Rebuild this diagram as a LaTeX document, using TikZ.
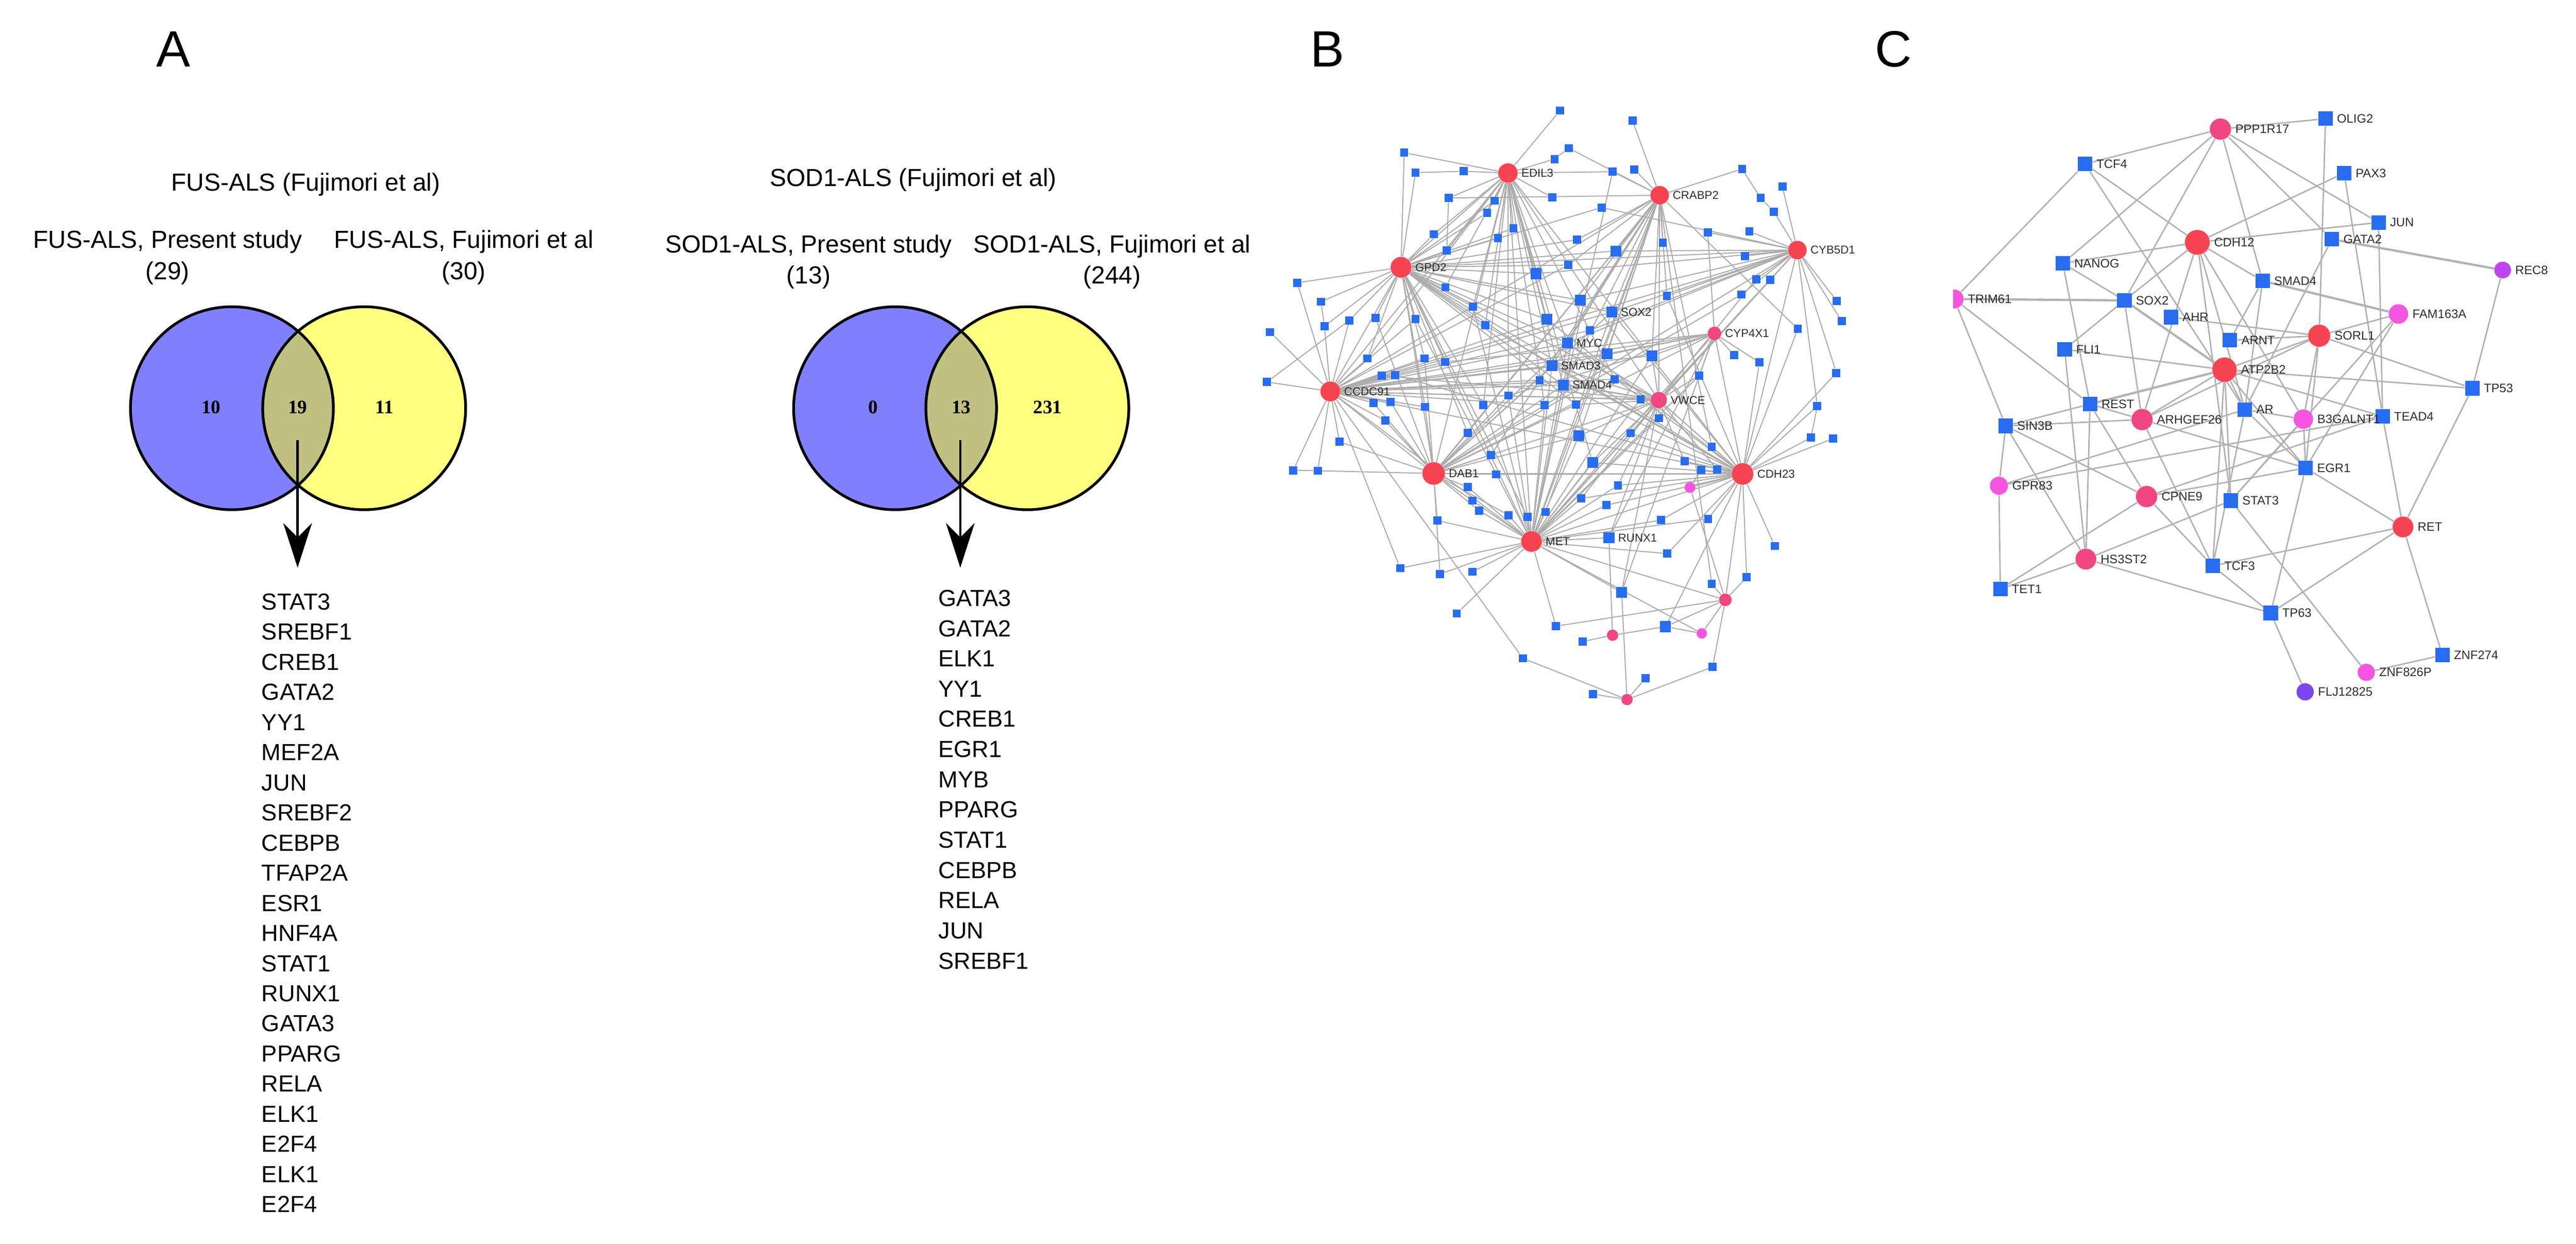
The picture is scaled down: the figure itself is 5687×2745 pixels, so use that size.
\documentclass[tikz,border=0pt]{standalone}
\usepackage{fontspec}
\setmainfont{Liberation Sans}
\newfontfamily\vennnum{Liberation Serif}
\usetikzlibrary{arrows.meta}
\pgfdeclarelayer{bg}
\pgfdeclarelayer{paper}
\pgfsetlayers{paper,bg,main}
\definecolor{vblue}{RGB}{128,128,255}
\definecolor{vyellow}{RGB}{255,255,128}
\definecolor{volive}{RGB}{192,192,128}
\definecolor{bblue}{RGB}{40,108,240}
\definecolor{hubred}{RGB}{247,68,82}
\definecolor{pinkred}{RGB}{240,70,130}
\definecolor{magentaB}{RGB}{245,85,225}
\definecolor{purpleB}{RGB}{190,70,240}
\definecolor{violetB}{RGB}{125,70,240}
\definecolor{edgeB}{RGB}{172,172,172}
\definecolor{edgeC}{RGB}{178,178,178}
\definecolor{lbltxt}{RGB}{45,45,45}
\begin{document}
\begin{tikzpicture}[x=0.01cm, y=-0.01cm,
  title/.style={font=\fontsize{15.5pt}{18pt}\selectfont, anchor=base, inner sep=0},
  listtxt/.style={font=\fontsize{14.6pt}{19pt}\selectfont, anchor=base west, inner sep=0},
  vnum/.style={font=\vennnum\bfseries\fontsize{12pt}{14pt}\selectfont, anchor=base, inner sep=0},
  panel/.style={font=\fontsize{32pt}{36pt}\selectfont, anchor=base, inner sep=0},
  vset/.style={circle, minimum size=4.48cm, inner sep=0},
  vline/.style={line width=1.7pt},
  downarrow/.style={line width=1.4pt, -{Stealth[length=28pt, width=18pt, inset=9pt]}},
  sqB/.style={rectangle, fill=bblue, minimum size=0.18cm, inner sep=0},
  sqBb/.style={rectangle, fill=bblue, minimum size=0.24cm, inner sep=0},
  hubB/.style={circle, fill=hubred, inner sep=0, minimum size=#1},
  pkB/.style={circle, fill=pinkred, inner sep=0, minimum size=#1},
  mgB/.style={circle, fill=magentaB, inner sep=0, minimum size=#1},
  lblB/.style={font=\fontsize{7.2pt}{8pt}\selectfont, text=lbltxt, anchor=west, inner sep=0, xshift=0.07cm},
  eB/.style={draw=edgeB, line width=0.65pt},
  sqC/.style={rectangle, fill=bblue, minimum size=0.32cm, inner sep=0},
  ndC/.style={circle, inner sep=0, fill=#1},
  lblC/.style={font=\fontsize{7.7pt}{9pt}\selectfont, text=lbltxt, anchor=west, inner sep=0, xshift=0.08cm},
  eC/.style={draw=edgeC, line width=0.9pt},
  eCt/.style={draw=edgeC, line width=1.4pt}
]
\begin{pgfonlayer}{paper}
\fill[white] (0,0) rectangle (5687,2745);
\end{pgfonlayer}
\useasboundingbox (0,0) rectangle (5687,2745);

% ---------------- Panel letters
\node[panel] (pA) at (383,147) {A};
\node[panel] (pB) at (2930,147) {B};
\node[panel] (pC) at (4180,147) {C};

% ---------------- Venn FUS
\node[title] (t1) at (675,421) {FUS-ALS (Fujimori et al)};
\node[title] (t1a) at (370,548) {FUS-ALS, Present study};
\node[title] (t1b) at (370,617) {(29)};
\node[title] (t1c) at (1024,548) {FUS-ALS, Fujimori et al};
\node[title] (t1d) at (1024,617) {(30)};
\node[vset, fill=vblue] (f1) at (512,901) {};
\node[vset, fill=vyellow] (f2) at (804,901) {};
\begin{scope}
  \clip (f1.center) circle[radius=224];
  \fill[volive] (f2.center) circle[radius=224];
\end{scope}
\draw[vline] (f1.center) circle[radius=224];
\draw[vline] (f2.center) circle[radius=224];
\node[vnum] (n10) at (466,913) {10};
\node[vnum] (n19) at (657,913) {19};
\node[vnum] (n11) at (849,913) {11};
\coordinate (fa1) at (657,971);
\coordinate (fa2) at (657,1253);
\draw[downarrow] (fa1) -- (fa2);
\foreach \t [count=\i] in {STAT3,SREBF1,CREB1,GATA2,YY1,MEF2A,JUN,SREBF2,CEBPB,TFAP2A,ESR1,HNF4A,STAT1,RUNX1,GATA3,PPARG,RELA,ELK1,E2F4,ELK1,E2F4}
  \node[listtxt] (fl\i) at (577,{1346+(\i-1)*66.5}) {\t};

% ---------------- Venn SOD1
\node[title] (t2) at (2016,411) {SOD1-ALS (Fujimori et al)};
\node[title] (t2a) at (1785,558) {SOD1-ALS, Present study};
\node[title] (t2b) at (1785,626) {(13)};
\node[title] (t2c) at (2455,558) {SOD1-ALS, Fujimori et al};
\node[title] (t2d) at (2455,626) {(244)};
\node[vset, fill=vblue] (s1) at (1976,901) {};
\node[vset, fill=vyellow] (s2) at (2268,901) {};
\begin{scope}
  \clip (s1.center) circle[radius=224];
  \fill[volive] (s2.center) circle[radius=224];
\end{scope}
\draw[vline] (s1.center) circle[radius=224];
\draw[vline] (s2.center) circle[radius=224];
\node[vnum] (n0) at (1928,913) {0};
\node[vnum] (n13) at (2122,913) {13};
\node[vnum] (n231) at (2313,913) {231};
\coordinate (sa1) at (2120,971);
\coordinate (sa2) at (2120,1253);
\draw[downarrow] (sa1) -- (sa2);
\foreach \t [count=\i] in {GATA3,GATA2,ELK1,YY1,CREB1,EGR1,MYB,PPARG,STAT1,CEBPB,RELA,JUN,SREBF1}
  \node[listtxt] (sl\i) at (2071,{1338+(\i-1)*66.7}) {\t};

% ---------------- Network B : nodes
\node[hubB=0.43cm] (edil) at (3329,382) {};
\node[hubB=0.46cm] (gpd) at (3093,590) {};
\node[hubB=0.44cm] (ccdc) at (2937,864) {};
\node[hubB=0.41cm] (crabp) at (3664,431) {};
\node[hubB=0.41cm] (cyb) at (3968,552) {};
\node[pkB=0.30cm] (cyp) at (3785,736) {};
\node[pkB=0.36cm] (vwce) at (3662,883) {};
\node[hubB=0.50cm] (dab) at (3165,1045) {};
\node[hubB=0.46cm] (met) at (3381,1195) {};
\node[hubB=0.48cm] (cdh) at (3847,1046) {};
\node[mgB=0.24cm] (p1) at (3731,1076) {};
\node[pkB=0.28cm] (p2) at (3809,1324) {};
\node[mgB=0.23cm] (p3) at (3757,1398) {};
\node[pkB=0.25cm] (p4) at (3560,1402) {};
\node[pkB=0.25cm] (p5) at (3592,1544) {};
\foreach \n/\x/\y in {b1/3444/244,b2/3604/266,b3/3463/327,b4/3432/351,b5/3100/337,b6/3125/381,b7/3231/378,b8/3560/379,b9/3608/374,b10/3846/373,b11/3935/412,b12/3887/437,b13/3916/467,b14/3536/458,b15/3198/437,b16/3300/443,b17/3283/470,b18/3427/436,b19/3165/517,b20/3307/525,b21/3341/504,b22/3194/553,b23/3770/513,b24/3862/511,b25/3671/536,b26/3482/529,b28/3852/565,b29/3462/585,b31/3877/616,b32/3908/618,b33/3844/650,b34/3680/653,b35/3191/634,b36/2864/624,b37/2916/666,b38/2924/720,b39/2979/707,b40/3037/702,b41/3125/704,b42/3252/677,b43/3279/718,b46/4055/664,b47/4066/709,b48/3969/726,b49/3510/729,b53/3828/784,b54/3884/800,b55/3751/829,b56/4054/823,b57/3565/837,b60/3399/839,b61/3622/881,b62/3479/893,b63/4012/896,b64/2804/733,b65/2797/843,b66/3019/791,b67/3145/791,b68/3190/799,b69/3050/829,b70/3080/828,b71/3330/873,b72/3032/889,b73/3070/887,b74/3146/898,b75/3275/894,b76/3410/894,b77/3662/923,b78/3058/928,b79/3240/955,b81/2957/975,b82/3600/956,b83/3998/966,b84/4047/968,b85/3292/1004,b86/2855/1038,b87/2909/1039,b88/3303/1047,b90/3719/1018,b91/3756/1037,b92/3791/1036,b93/3779/986,b94/3240/1075,b95/3251/1105,b96/3265/1127,b97/3572/1071,b98/3491/1100,b99/3546/1115,b100/3330/1137,b101/3372/1141,b102/3412/1130,b103/3173/1149,b104/3667/1148,b105/3771/1145,b107/3918/1205,b108/3681/1222,b109/3091/1254,b110/3179/1267,b111/3251/1262,b112/3856/1274,b113/3779/1289,b115/3216/1354,b116/3435/1382,b118/3494/1416,b119/3362/1453,b120/3781/1472,b121/3633/1497,b122/3517/1532}
  \node[sqB] (\n) at (\x,\y) {};
\foreach \n/\x/\y in {b27/3567/554,b30/3391/604,b44/3415/705,b45/3489/663,b51/3548/781,b52/3647/785,b80/3486/962,b89/3516/1021,b114/3580/1307,b117/3677/1383,myc/3460/757,smad3/3426/807,smad4/3451/850,sox2/3558/689,runx1/3552/1187}
  \node[sqBb] (\n) at (\x,\y) {};
\foreach \n/\t in {edil/EDIL3,gpd/GPD2,ccdc/CCDC91,crabp/CRABP2,cyb/CYB5D1,cyp/CYP4X1,vwce/VWCE,dab/DAB1,met/MET,cdh/CDH23,sox2/SOX2,myc/MYC,smad3/SMAD3,smad4/SMAD4,runx1/RUNX1}
  \node[lblB] (\n-l) at (\n.east) {\t};

% ---------------- Network B : edges
\begin{pgfonlayer}{bg}
\foreach \a/\b in {b1/edil,b2/crabp,b3/crabp,b3/b4,b4/edil,b5/edil,b5/gpd,b6/b7,b6/gpd,b7/edil,b8/crabp,b8/edil,b8/met,b9/crabp,b10/crabp,b10/b12,b12/b13,b13/cyb,b11/cyb,b14/cyb,b14/gpd,b15/edil,b15/crabp,b15/b22,b16/edil,b16/gpd,b17/edil,b17/gpd,b18/edil,b19/gpd,b19/edil,b20/gpd,b20/edil,b21/edil,b21/gpd,b22/gpd,b22/edil,b23/cyb,b23/cyp,b24/cyb,b25/crabp,b26/gpd,b26/crabp,b27/gpd,b27/cyb,b27/crabp,b28/cyb,b29/gpd,b29/crabp,b29/ccdc,b30/gpd,b30/cyb,b30/edil,b31/cyb,b31/vwce,b32/cyb,b32/met,b33/cyb,b33/dab,b34/crabp,b34/cyb,b34/cdh,b35/gpd,b35/edil,b36/gpd,b36/ccdc,b37/gpd,b37/b38,b38/ccdc,b38/gpd,b39/gpd,b39/ccdc,b40/gpd,b40/dab,b41/gpd,b41/ccdc,b41/met,b42/edil,b42/gpd,b42/met,b43/gpd,b43/edil,b43/cdh,b44/edil,b44/gpd,b44/ccdc,b44/cdh,b45/crabp,b45/gpd,b45/cyb,b45/met,b46/cyb,b47/cyb,b48/crabp,b48/cdh,b49/ccdc,b49/cyb,b51/ccdc,b51/cyp,b51/crabp,b52/cyp,b52/crabp,b52/vwce,b52/ccdc,b52/met,b53/cyp,b54/cyp,b54/cdh,b55/cyp,b55/vwce,b55/met,b56/cyb,b56/cdh,b57/vwce,b57/ccdc,b57/edil,b60/ccdc,b60/vwce,b60/crabp,b61/vwce,b61/ccdc,b61/met,b62/gpd,b62/vwce,b62/dab,b63/cyb,b63/cdh,b64/ccdc,b65/ccdc,b65/b39,b66/ccdc,b66/gpd,b66/edil,b67/ccdc,b67/gpd,b67/dab,b68/ccdc,b68/gpd,b68/cyp,b69/ccdc,b69/vwce,b70/ccdc,b70/cdh,b71/edil,b71/dab,b71/met,b71/cyp,b72/ccdc,b72/dab,b73/ccdc,b73/dab,b74/ccdc,b74/gpd,b74/dab,b75/gpd,b75/met,b75/edil,b76/edil,b76/met,b76/ccdc,b77/vwce,b77/met,b78/ccdc,b78/dab,b79/dab,b79/gpd,b79/crabp,b80/dab,b80/met,b80/crabp,b80/vwce,b81/ccdc,b81/dab,b82/vwce,b82/met,b82/cdh,b83/cdh,b83/b63,b84/cdh,b85/dab,b85/crabp,b86/ccdc,b86/b87,b87/ccdc,b87/dab,b88/dab,b88/cdh,b89/met,b89/vwce,b89/edil,b89/cdh,b90/cdh,b90/vwce,b91/cdh,b91/p1,b92/cdh,b92/vwce,b93/cdh,b93/vwce,b93/crabp,b94/dab,b94/met,b95/dab,b95/met,b96/dab,b96/met,b97/vwce,b97/cdh,b97/met,b98/met,b98/cdh,b98/vwce,b99/cdh,b99/met,b100/dab,b100/met,b101/met,b101/gpd,b102/met,b102/crabp,b103/dab,b103/met,b104/cdh,b104/met,b105/cdh,b105/met,b107/cdh,b108/met,b108/cdh,b109/met,b109/ccdc,b110/met,b110/dab,b111/met,b112/p2,b112/cdh,b113/p2,b113/crabp,b114/met,b114/p5,b114/cyp,b114/vwce,b115/met,b116/met,b116/p2,b117/p4,b117/p2,b117/cdh,b118/p4,b119/ccdc,b119/p5,b120/p5,b120/p2,b121/p5,b122/p5}
  \draw[eB] (\a) -- (\b);
\foreach \a/\b in {myc/edil,myc/gpd,myc/ccdc,myc/dab,myc/met,myc/cdh,myc/vwce,myc/crabp,myc/cyb,smad3/ccdc,smad3/gpd,smad3/edil,smad3/cyp,smad3/vwce,smad3/dab,smad3/met,smad3/cdh,smad3/crabp,smad4/ccdc,smad4/gpd,smad4/edil,smad4/dab,smad4/met,smad4/cdh,smad4/vwce,smad4/crabp,sox2/gpd,sox2/crabp,sox2/cyb,sox2/ccdc,sox2/dab,sox2/met,sox2/cdh,runx1/met,runx1/cyp,runx1/p4,runx1/vwce,p1/cdh,p1/p2,p2/cdh,p2/p3,p2/met,p3/met,p3/b117}
  \draw[eB] (\a) -- (\b);
\foreach \a/\b in {gpd/cyb,gpd/met,edil/met,edil/dab,edil/vwce,edil/cdh,ccdc/cdh,ccdc/vwce,ccdc/cyp,gpd/cdh,gpd/vwce,crabp/dab,crabp/met,cyb/dab,cyb/met,dab/cdh,dab/vwce,met/cdh,met/cyp,crabp/vwce,cyb/vwce,ccdc/met,gpd/dab,ccdc/dab,gpd/ccdc,crabp/ccdc,edil/gpd,edil/ccdc,cyb/cdh,vwce/cdh,cyp/cdh,cyp/dab,cyb/ccdc}
  \draw[eB] (\a) -- (\b);
\end{pgfonlayer}

% ---------------- Network C : nodes
\node[ndC=pinkred, minimum size=0.47cm] (ppp) at (4902,285) {};
\node[ndC=hubred, minimum size=0.55cm] (cdh12) at (4851,535) {};
\node[ndC=purpleB, minimum size=0.37cm] (rec8) at (5525,596) {};
\begin{scope}
  \clip (4312,0) rectangle (5687,2745);
  \node[ndC=magentaB, minimum size=0.42cm] (trim) at (4314,660) {};
\end{scope}
\node[ndC=magentaB, minimum size=0.43cm] (fam) at (5295,693) {};
\node[ndC=hubred, minimum size=0.49cm] (sorl) at (5120,741) {};
\node[ndC=hubred, minimum size=0.54cm] (atp) at (4911,816) {};
\node[ndC=magentaB, minimum size=0.43cm] (b3g) at (5085,925) {};
\node[ndC=pinkred, minimum size=0.47cm] (arh) at (4729,926) {};
\node[ndC=magentaB, minimum size=0.40cm] (gpr83) at (4413,1072) {};
\node[ndC=pinkred, minimum size=0.47cm] (cpne9) at (4739,1096) {};
\node[ndC=hubred, minimum size=0.46cm] (ret) at (5305,1163) {};
\node[ndC=pinkred, minimum size=0.46cm] (hs3) at (4605,1234) {};
\node[ndC=magentaB, minimum size=0.38cm] (znf826) at (5224,1484) {};
\node[ndC=violetB, minimum size=0.38cm] (flj) at (5089,1527) {};
\foreach \n/\x/\y in {olig/5134/262,tcf4/4603/362,pax3/5175/382,jun/5251/491,gata2/5148/528,nanog/4554/581,smad4c/4995/620,sox2c/4690/663,ahr/4793/700,arnt/4923/751,fli1/4558/771,tp53/5458/857,rest/4614/892,ar/4956/904,tead4/5260/919,sin3b/4428/940,egr1/5090/1033,stat3c/4925/1105,tcf3/4885/1249,tet1/4416/1300,tp63/5013/1353,znf274/5392/1446}
  \node[sqC] (\n) at (\x,\y) {};
\foreach \n/\t in {ppp/PPP1R17,olig/OLIG2,tcf4/TCF4,pax3/PAX3,jun/JUN,cdh12/CDH12,gata2/GATA2,nanog/NANOG,rec8/REC8,smad4c/SMAD4,trim/TRIM61,sox2c/SOX2,ahr/AHR,fam/FAM163A,sorl/SORL1,arnt/ARNT,fli1/FLI1,atp/ATP2B2,tp53/TP53,rest/REST,ar/AR,b3g/B3GALNT1,tead4/TEAD4,arh/ARHGEF26,sin3b/SIN3B,egr1/EGR1,gpr83/GPR83,cpne9/CPNE9,stat3c/STAT3,ret/RET,hs3/HS3ST2,tcf3/TCF3,tet1/TET1,tp63/TP63,znf274/ZNF274,znf826/ZNF826P,flj/FLJ12825}
  \node[lblC] (\n-l) at (\n.east) {\t};

% ---------------- Network C : edges
\begin{pgfonlayer}{bg}
\foreach \a/\b in {ppp/olig,ppp/tcf4,ppp/nanog,ppp/sox2c,ppp/smad4c,ppp/gata2,ppp/jun,olig/sorl,tcf4/trim,tcf4/cdh12,tcf4/ar,pax3/cdh12,pax3/tead4,jun/cdh12,jun/tead4,gata2/ar,cdh12/nanog,cdh12/sox2c,cdh12/smad4c,cdh12/arh,cdh12/ar,cdh12/b3g,cdh12/stat3c,nanog/sox2c,nanog/rest,trim/rest,trim/sin3b,sox2c/fli1,sox2c/arh,smad4c/arnt,smad4c/ar,ahr/sorl,arnt/sorl,fli1/atp,fli1/hs3,atp/sorl,atp/tp53,atp/arh,atp/ar,atp/tead4,atp/egr1,atp/stat3c,atp/tcf3,sorl/tp53,sorl/fam,sorl/b3g,sorl/arh,sorl/egr1,fam/egr1,fam/stat3c,rec8/tp53,tp53/ret,rest/sin3b,rest/arh,rest/hs3,rest/cpne9,sin3b/arh,sin3b/gpr83,sin3b/cpne9,sin3b/hs3,gpr83/tet1,gpr83/ar,gpr83/tead4,tet1/hs3,tet1/cpne9,arh/egr1,arh/tcf3,ar/b3g,ar/egr1,ar/tcf3,b3g/egr1,b3g/stat3c,tead4/ret,tead4/cpne9,egr1/ret,egr1/cpne9,egr1/tp63,cpne9/tcf3,stat3c/hs3,stat3c/znf826,ret/tcf3,ret/tp63,ret/znf274,hs3/tp63,tcf3/tp63,tp63/flj,znf274/znf826}
  \draw[eC] (\a) -- (\b);
\foreach \a/\b in {trim/sox2c,sox2c/atp,atp/rest,gata2/rec8,smad4c/fam}
  \draw[eCt] (\a) -- (\b);
\end{pgfonlayer}
\end{tikzpicture}
\end{document}
